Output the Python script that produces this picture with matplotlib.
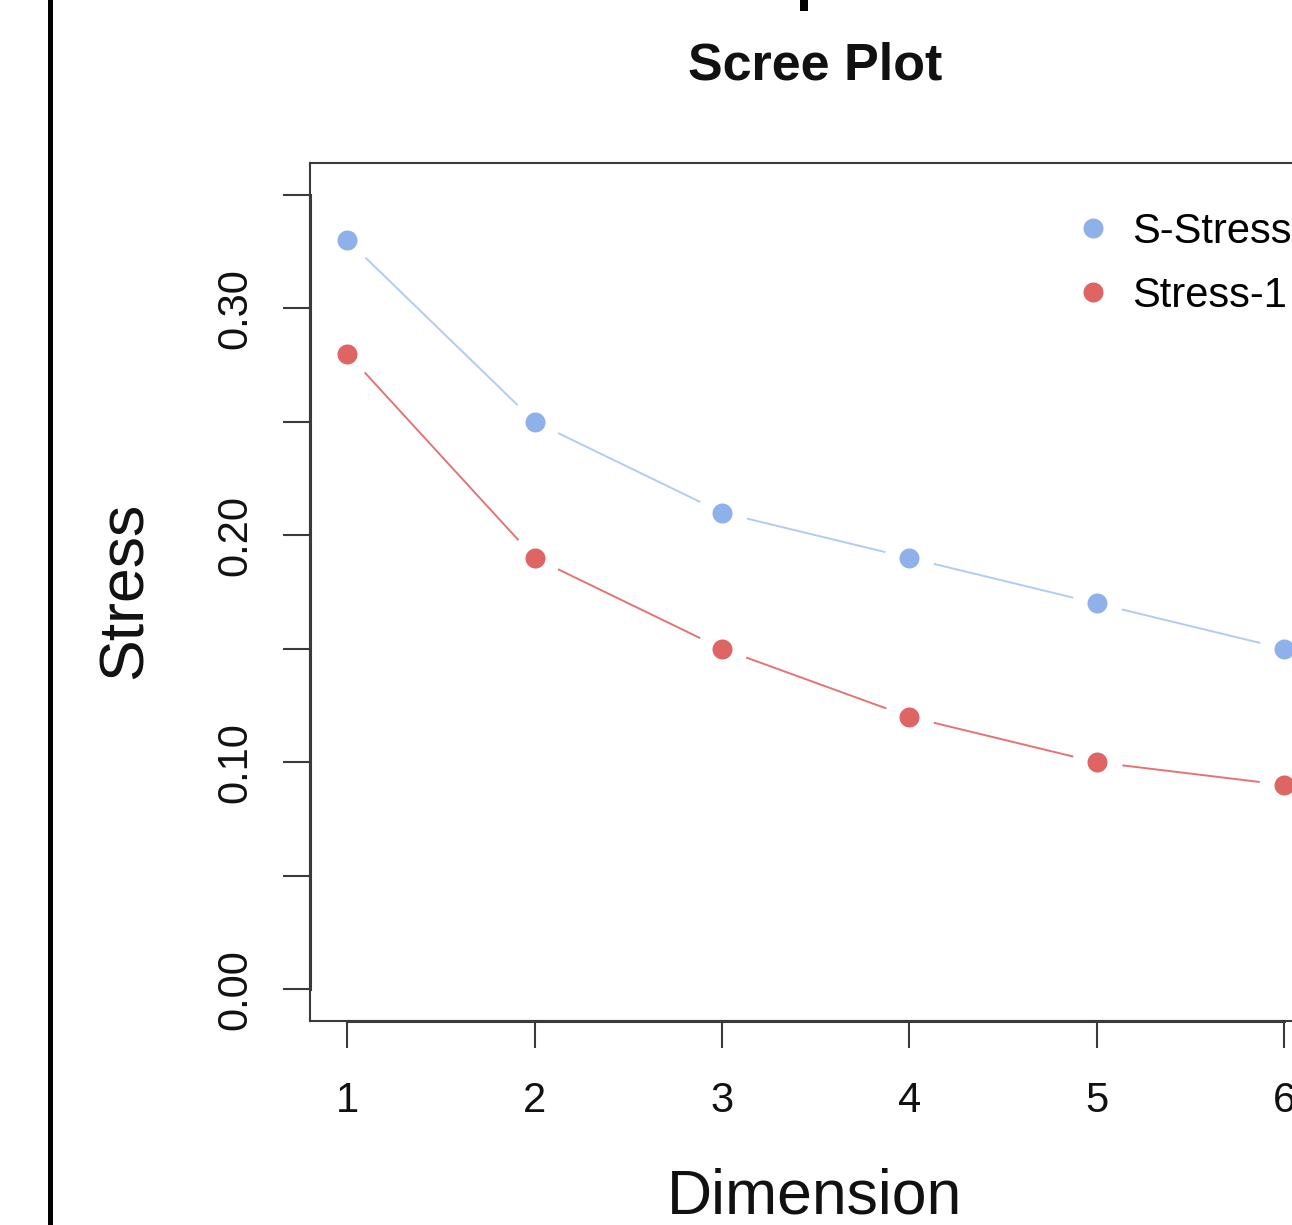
"""
Scree plot: S-Stress and Stress-1 by number of MDS dimensions (R base style).
"""
import numpy as np
import matplotlib.pyplot as plt
from matplotlib.lines import Line2D
from matplotlib.patches import Rectangle

plt.rcParams['font.family'] = ['Liberation Sans', 'DejaVu Sans']

# data
dimension = [1, 2, 3, 4, 5, 6]
s_stress = [0.33, 0.25, 0.21, 0.19, 0.17, 0.15]
stress_1 = [0.28, 0.19, 0.15, 0.12, 0.10, 0.09]
series_names = ['S-Stress', 'Stress-1']
y_ticks = [0.00, 0.05, 0.10, 0.15, 0.20, 0.25, 0.30, 0.35]
y_tick_labels = ['0.00', '', '0.10', '', '0.20', '', '0.30', '']

# colours (points, connecting lines)
blue_pt, blue_ln = '#8FB1E9', '#B3CBF3'
red_pt, red_ln = '#DF6464', '#E47474'
axis_col = '#3A3A3A'

W, H = 1292, 1225
fig = plt.figure(figsize=(W / 100, H / 100), dpi=100)
# plot region runs past the right edge of the image (cropped original)
ax = fig.add_axes([310 / W, (H - 1021) / H, (1321.5 - 310) / W, (1021 - 163) / H])

# R xlim/ylim with 4% padding
ax.set_xlim(0.8, 6.2)
ax.set_ylim(-0.014, 0.364)

# type="b": line with gaps around each point
for ys, pc, lc in [(s_stress, blue_pt, blue_ln), (stress_1, red_pt, red_ln)]:
    ax.plot(dimension, ys, color=lc, lw=1.4, zorder=2, clip_on=False)
    ax.plot(dimension, ys, 'o', color='white', ms=36, mew=0, zorder=3, clip_on=False)
    ax.plot(dimension, ys, 'o', color=pc, ms=14.4, mew=0, zorder=4, clip_on=False)

for sp in ax.spines.values():
    sp.set_color(axis_col)
    sp.set_linewidth(1.5)

# axis lines spanning the tick range, like R's axis()
ax.plot([dimension[0], dimension[-1]], [0, 0], transform=ax.get_xaxis_transform(),
        color=axis_col, lw=2.2, clip_on=False, zorder=5)
ax.plot([0, 0], [y_ticks[0], y_ticks[-1]], transform=ax.get_yaxis_transform(),
        color=axis_col, lw=2.2, clip_on=False, zorder=5)

ax.set_xticks(dimension)
ax.set_xticklabels([str(d) for d in dimension])
ax.set_yticks(y_ticks)
ax.set_yticklabels(y_tick_labels, rotation=90, va='center')
ax.tick_params(axis='both', direction='out', length=19.5, width=1.5, color=axis_col,
               labelsize=30, labelcolor='#111111')
ax.tick_params(axis='x', pad=24)
ax.tick_params(axis='y', pad=20)

# titles / axis labels
fig.text(815 / W, (H - 80) / H, 'Scree Plot', ha='center', va='baseline',
         fontsize=37.5, fontweight='bold', color='#111111')
fig.text(815 / W, (H - 1213) / H, 'Dimension', ha='center', va='baseline',
         fontsize=45, color='#111111')
fig.text(125 / W, (H - 590) / H, 'Stress', ha='center', va='center', rotation=90,
         fontsize=45, color='#111111')

# legend (no box)
handles = [Line2D([], [], ls='none', marker='o', ms=14.4, mew=0, color=blue_pt),
           Line2D([], [], ls='none', marker='o', ms=14.4, mew=0, color=red_pt)]
ax.legend(handles, series_names, loc='upper left', frameon=False, fontsize=30,
          bbox_to_anchor=(1076 / W, (H - 212) / H), bbox_transform=fig.transFigure,
          borderpad=0, borderaxespad=0, handlelength=0.8, handletextpad=0.55,
          labelspacing=0.57)

# bits of the neighbouring panel visible in the crop
fig.add_artist(Rectangle((48 / W, 0), 5 / W, 1, transform=fig.transFigure,
                         color='black', lw=0))
fig.add_artist(Rectangle((800 / W, (H - 11) / H), 8 / W, 11 / H, transform=fig.transFigure,
                         color='black', lw=0))

fig.savefig('out.png', dpi=100)
